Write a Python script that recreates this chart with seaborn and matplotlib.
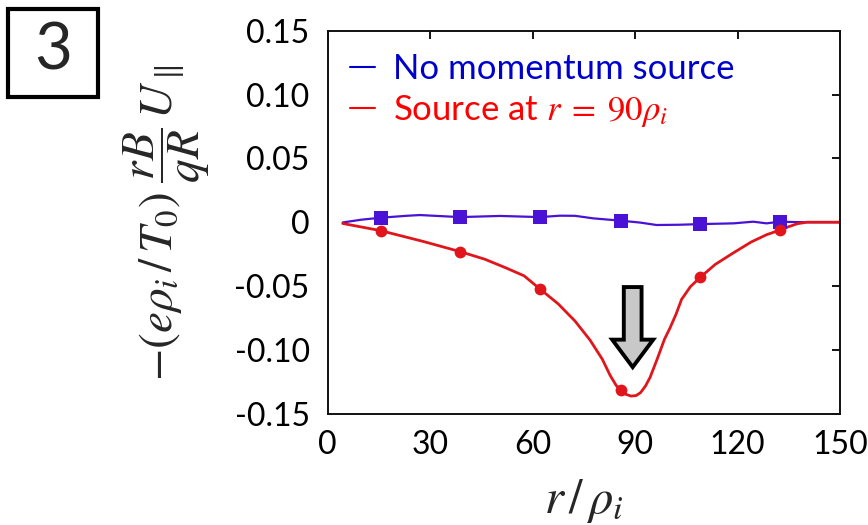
import numpy as np
import pandas as pd
import matplotlib
matplotlib.use("Agg")
import matplotlib.pyplot as plt
import seaborn as sns
from matplotlib.lines import Line2D
from matplotlib.patches import Rectangle, FancyArrow

# ---- data ----
r_blue_line = [4.4, 10, 15.5, 23, 27, 38.7, 50.5, 62.2, 68, 72.4, 77.8, 85.8, 91.5,
               96.3, 103, 109, 118.8, 124.6, 128.5, 132.4, 136.9, 140.3, 150]
u_blue_line = [-0.0002, 0.0020, 0.0035, 0.0050, 0.0056, 0.0040, 0.0049, 0.0040, 0.0051,
               0.0050, 0.0030, 0.0012, -0.0003, -0.0022, -0.0020, -0.0015, -0.0009,
               0.0004, -0.0009, 0.0004, 0.0001, 0.0, 0.0]

r_red_line = [4.4, 15.5, 28.0, 38.7, 46.0, 52.2, 57.5, 62.1, 67.5, 72.4, 76.8, 80.4, 82.7,
              84.5, 85.8, 87.3, 88.8, 90.3, 91.6, 93.0, 94.4, 96.5, 98.6, 100.2, 102.0,
              103.6, 106.2, 109.1, 113.5, 118.8, 124.0, 128.5, 132.4, 135.0, 137.5,
              140.3, 150]
u_red_line = [-0.0010, -0.0066, -0.0151, -0.0230, -0.0290, -0.0358, -0.0420, -0.0522,
              -0.0640, -0.0774, -0.0923, -0.1073, -0.1200, -0.1280, -0.1314, -0.1348,
              -0.1362, -0.1358, -0.1335, -0.1285, -0.1215, -0.1070, -0.0917, -0.0830,
              -0.0720, -0.0605, -0.0505, -0.0431, -0.0330, -0.0240, -0.0155, -0.0098,
              -0.0062, -0.0035, -0.0012, 0.0, 0.0]

r_markers = [15.5, 38.7, 62.2, 85.8, 109.1, 132.5]
u_blue_markers = [0.0035, 0.0038, 0.0038, 0.0012, -0.0014, 0.0004]
u_red_markers = [-0.0067, -0.0231, -0.0522, -0.1314, -0.0431, -0.0062]

x_ticks = [0, 30, 60, 90, 120, 150]
y_ticks = [0.15, 0.10, 0.05, 0, -0.05, -0.10, -0.15]
y_tick_labels = ["0.15", "0.10", "0.05", "0", "-0.05", "-0.10", "-0.15"]

legend_labels = ["No momentum source", r"Source at $r\;=\;90\rho_i$"]
panel_label = "3"

# arrow marking the source location (data units)
arrow_r, arrow_top, arrow_tip = 89.3, -0.0508, -0.1135

# ---- style ----
sns.set_style("white")
plt.rcParams["font.family"] = ["Lato", "DejaVu Sans"]
plt.rcParams["mathtext.fontset"] = "stix"

blue_line = "#4A12D4"
red_line = "#E0161C"
blue_text = "#0000CC"
red_text = "#FF0000"

fig = plt.figure(figsize=(8.68, 5.25), dpi=100)
ax = fig.add_axes([327.7 / 868, 1 - 413.7 / 525, (840 - 327.7) / 868, (413.7 - 30.7) / 525])

df_b = pd.DataFrame({"r": r_blue_line, "u": u_blue_line})
df_r = pd.DataFrame({"r": r_red_line, "u": u_red_line})
sns.lineplot(data=df_b, x="r", y="u", ax=ax, color=blue_line, lw=1.6, sort=False, estimator=None)
sns.lineplot(data=df_r, x="r", y="u", ax=ax, color=red_line, lw=2.0, sort=False, estimator=None)
sns.scatterplot(x=r_markers, y=u_blue_markers, ax=ax, marker="s", s=92, color=blue_line,
                linewidth=0, zorder=5)
sns.scatterplot(x=r_markers, y=u_red_markers, ax=ax, marker="o", s=72, color=red_line,
                linewidth=0, zorder=5)

arr = FancyArrow(arrow_r, arrow_top, 0, arrow_tip - arrow_top, width=5.2, head_width=12.0,
                 head_length=0.0215, length_includes_head=True, fc="#C8C8C8", ec="black",
                 lw=2.8, zorder=6)
ax.add_patch(arr)

ax.set_xlim(0, 150)
ax.set_ylim(-0.15, 0.15)
ax.set_xticks(x_ticks)
ax.set_yticks(y_ticks)
ax.set_yticklabels(y_tick_labels)
ax.tick_params(axis="both", direction="in", length=5.5, width=1.3, labelsize=23,
               top=True, right=True, colors="black")
ax.tick_params(axis="y", pad=13)
ax.tick_params(axis="x", pad=12)
for s in ax.spines.values():
    s.set_visible(True)
    s.set_linewidth(1.4)
    s.set_color("#111111")

ax.set_xlabel(r"$r\,/\,\rho_i$", fontsize=35, labelpad=12)
ax.set_ylabel(r"$-(e\rho_i\,/\,T_0)\;\dfrac{rB}{qR}\,U_{\parallel}$", fontsize=34, labelpad=16)

handles = [Line2D([0], [0], color=blue_text, lw=1.5), Line2D([0], [0], color=red_text, lw=1.5)]
leg = ax.legend(handles, legend_labels, loc="upper left", bbox_to_anchor=(0.0, 1.0),
                frameon=False, fontsize=25, handlelength=0.72, handletextpad=0.5,
                labelspacing=0.22, borderaxespad=0.25)
for t, c in zip(leg.get_texts(), [blue_text, red_text]):
    t.set_color(c)

# panel label box
fig.patches.append(Rectangle((8 / 868, 1 - 97.3 / 525), 90 / 868, 88 / 525,
                             transform=fig.transFigure, fill=False, ec="black", lw=3.0))
fig.text(53 / 868, 1 - 51 / 525, panel_label, fontsize=47, ha="center", va="center")

fig.savefig("out.png", dpi=100)
